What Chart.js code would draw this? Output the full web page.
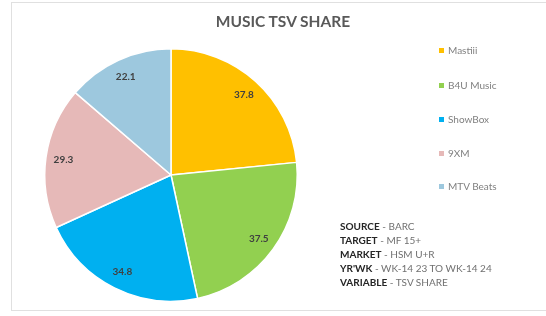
<!DOCTYPE html>
<html>
<head>
<meta charset="utf-8">
<script src="https://cdn.jsdelivr.net/npm/chart.js@4/dist/chart.umd.min.js"></script>
<style>
  html, body { margin: 0; padding: 0; background: #fff; }
  #wrap { position: relative; width: 546px; height: 316px; font-family: Lato, "Open Sans", sans-serif; }
  #frame { position: absolute; left: 11px; top: 2px; width: 540px; height: 309px; border: 1px solid #e0e0e0; box-sizing: border-box; }
  #title { position: absolute; left: 0; top: 12px; width: 566px; text-align: center; font-size: 15.5px; font-weight: bold; color: #595959; }
  #legend { position: absolute; left: 439px; top: 0; }
  .lg { position: absolute; white-space: nowrap; font-size: 10px; color: #808080; }
  .lg span { display: inline-block; width: 5px; height: 5px; margin-right: 4px; vertical-align: middle; position: relative; top: -1px; }
  #notes { position: absolute; left: 340px; top: 219px; font-size: 10px; line-height: 14px; color: #707070; }
  #notes b { color: #262626; }
  canvas { position: absolute; left: 0; top: 0; }
</style>
</head>
<body>
<div id="wrap">
  <div id="frame"></div>
  <canvas id="pie" width="546" height="316"></canvas>
  <div id="title">MUSIC TSV SHARE</div>
  <div id="legend"></div>
  <div id="notes">
    <div><b>SOURCE</b> - BARC</div>
    <div><b>TARGET</b> - MF 15+</div>
    <div><b>MARKET</b> - HSM U+R</div>
    <div><b>YR'WK</b> - WK-14 23 TO WK-14 24</div>
    <div><b>VARIABLE</b> - TSV SHARE</div>
  </div>
</div>
<script>
const channels = ['Mastiii', 'B4U Music', 'ShowBox', '9XM', 'MTV Beats'];
const tsvShare = [37.8, 37.5, 34.8, 29.3, 22.1];
const sliceColors = ['#FFC000', '#92D050', '#00B0F0', '#E6B9B8', '#9DC8DE'];

// value labels inside the slices
const sliceLabels = {
    id: 'sliceLabels',
    afterDatasetsDraw(chart) {
        const ctx = chart.ctx;
        const meta = chart.getDatasetMeta(0);
        ctx.save();
        ctx.font = 'bold 10px Lato, sans-serif';
        ctx.fillStyle = '#404040';
        ctx.textAlign = 'center';
        ctx.textBaseline = 'middle';
        meta.data.forEach((arc, i) => {
            const mid = (arc.startAngle + arc.endAngle) / 2;
            const r = arc.outerRadius * 0.86;
            ctx.fillText(tsvShare[i].toFixed(1), arc.x + Math.cos(mid) * r, arc.y + Math.sin(mid) * r);
        });
        ctx.restore();
    }
};

new Chart(document.getElementById('pie'), {
    type: 'pie',
    data: {
        labels: channels,
        datasets: [{ data: tsvShare, backgroundColor: sliceColors, borderColor: '#ffffff', borderWidth: 1.5 }]
    },
    options: {
        responsive: false,
        animation: false,
        layout: { padding: { left: 44, right: 248, top: 48, bottom: 14 } },
        plugins: { legend: { display: false }, tooltip: { enabled: false } }
    },
    plugins: [sliceLabels]
});

// legend on the right
const legendTops = [44, 79, 113, 147, 180];
const legend = document.getElementById('legend');
channels.forEach((name, i) => {
    const div = document.createElement('div');
    div.className = 'lg';
    div.style.top = legendTops[i] + 'px';
    div.innerHTML = `<span style="background:${sliceColors[i]}"></span>${name}`;
    legend.appendChild(div);
});
</script>
</body>
</html>
